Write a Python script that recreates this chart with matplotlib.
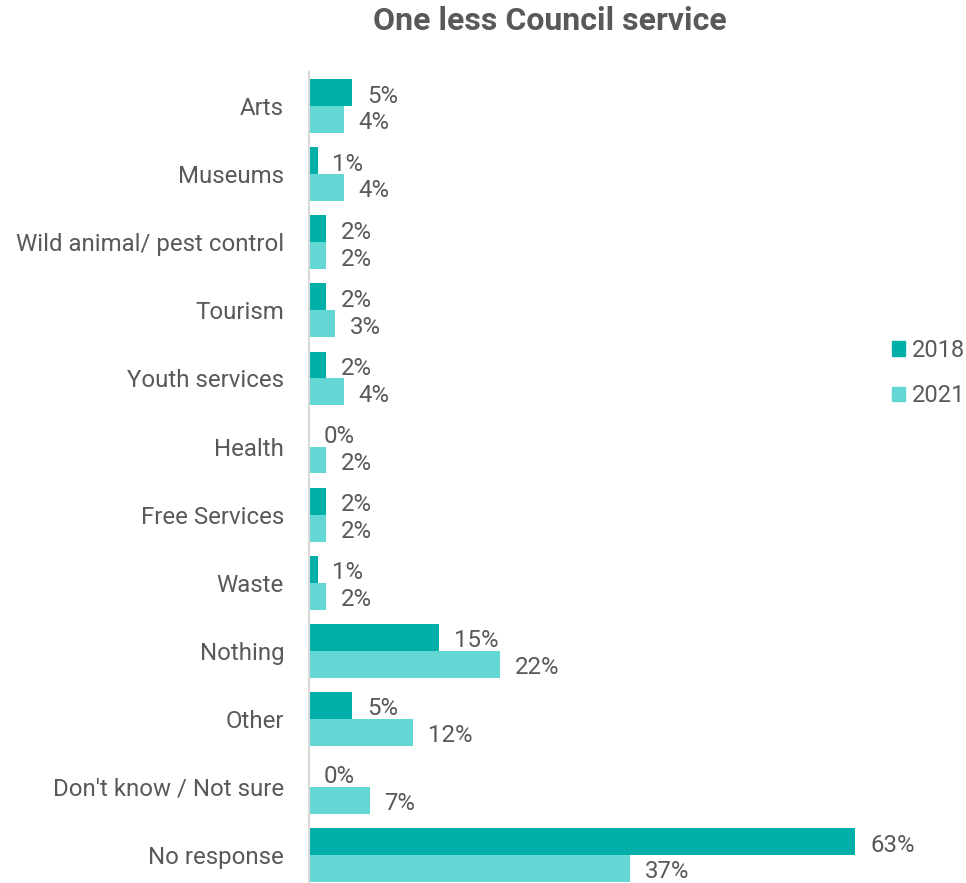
import numpy as np
import matplotlib
matplotlib.use("Agg")
from matplotlib import pyplot as plt
from matplotlib.patches import Patch

plt.rcParams['font.family'] = ['Roboto', 'DejaVu Sans']

categories = ["Arts", "Museums", "Wild animal/ pest control", "Tourism",
              "Youth services", "Health", "Free Services", "Waste",
              "Nothing", "Other", "Don't know / Not sure", "No response"]
values_2018 = [5, 1, 2, 2, 2, 0, 2, 1, 15, 5, 0, 63]
values_2021 = [4, 4, 2, 3, 4, 2, 2, 2, 22, 12, 7, 37]
years = ["2018", "2021"]

col_2018 = "#00B0A8"
col_2021 = "#62D7D3"
text_col = "#595959"
fs = 17.3

fig = plt.figure(figsize=(9.66, 8.83), dpi=100)
ax = fig.add_axes([309 / 966, 0.0, 607 / 966, 1 - 72 / 883])

y = np.arange(len(categories))
h = 0.395
ax.barh(y - h / 2, values_2018, height=h, color=col_2018)
ax.barh(y + h / 2, values_2021, height=h, color=col_2021)

# value labels just right of each bar
for yi, v in zip(y, values_2018):
    ax.text(v + 1.7, yi - h / 2 + 0.05, f"{v}%", va="center", ha="left",
            fontsize=fs, color=text_col)
for yi, v in zip(y, values_2021):
    ax.text(v + 1.7, yi + h / 2 + 0.05, f"{v}%", va="center", ha="left",
            fontsize=fs, color=text_col)

ax.set_xlim(0, 70)
ax.set_ylim(11.41, -0.5)
ax.set_yticks(y)
ax.set_yticklabels(categories, fontsize=fs, color=text_col)
ax.tick_params(axis="y", length=0, pad=18)
ax.set_xticks([])
for side in ["top", "right", "bottom"]:
    ax.spines[side].set_visible(False)
ax.spines["left"].set_color("#d9d9d9")
ax.spines["left"].set_linewidth(1.5)

fig.text(550 / 966, 1 - 21 / 883, "One less Council service", ha="center",
         va="center", fontsize=23, fontweight="bold", color=text_col)

handles = [Patch(color=col_2018), Patch(color=col_2021)]
fig.legend(handles, years, loc="center left", bbox_to_anchor=(892 / 966, 1 - 373 / 883),
           frameon=False, fontsize=17, labelcolor=text_col, borderaxespad=0, borderpad=0,
           handlelength=0.55, handleheight=0.55, handletextpad=0.3, labelspacing=0.95)

fig.savefig("out.png", dpi=100)
